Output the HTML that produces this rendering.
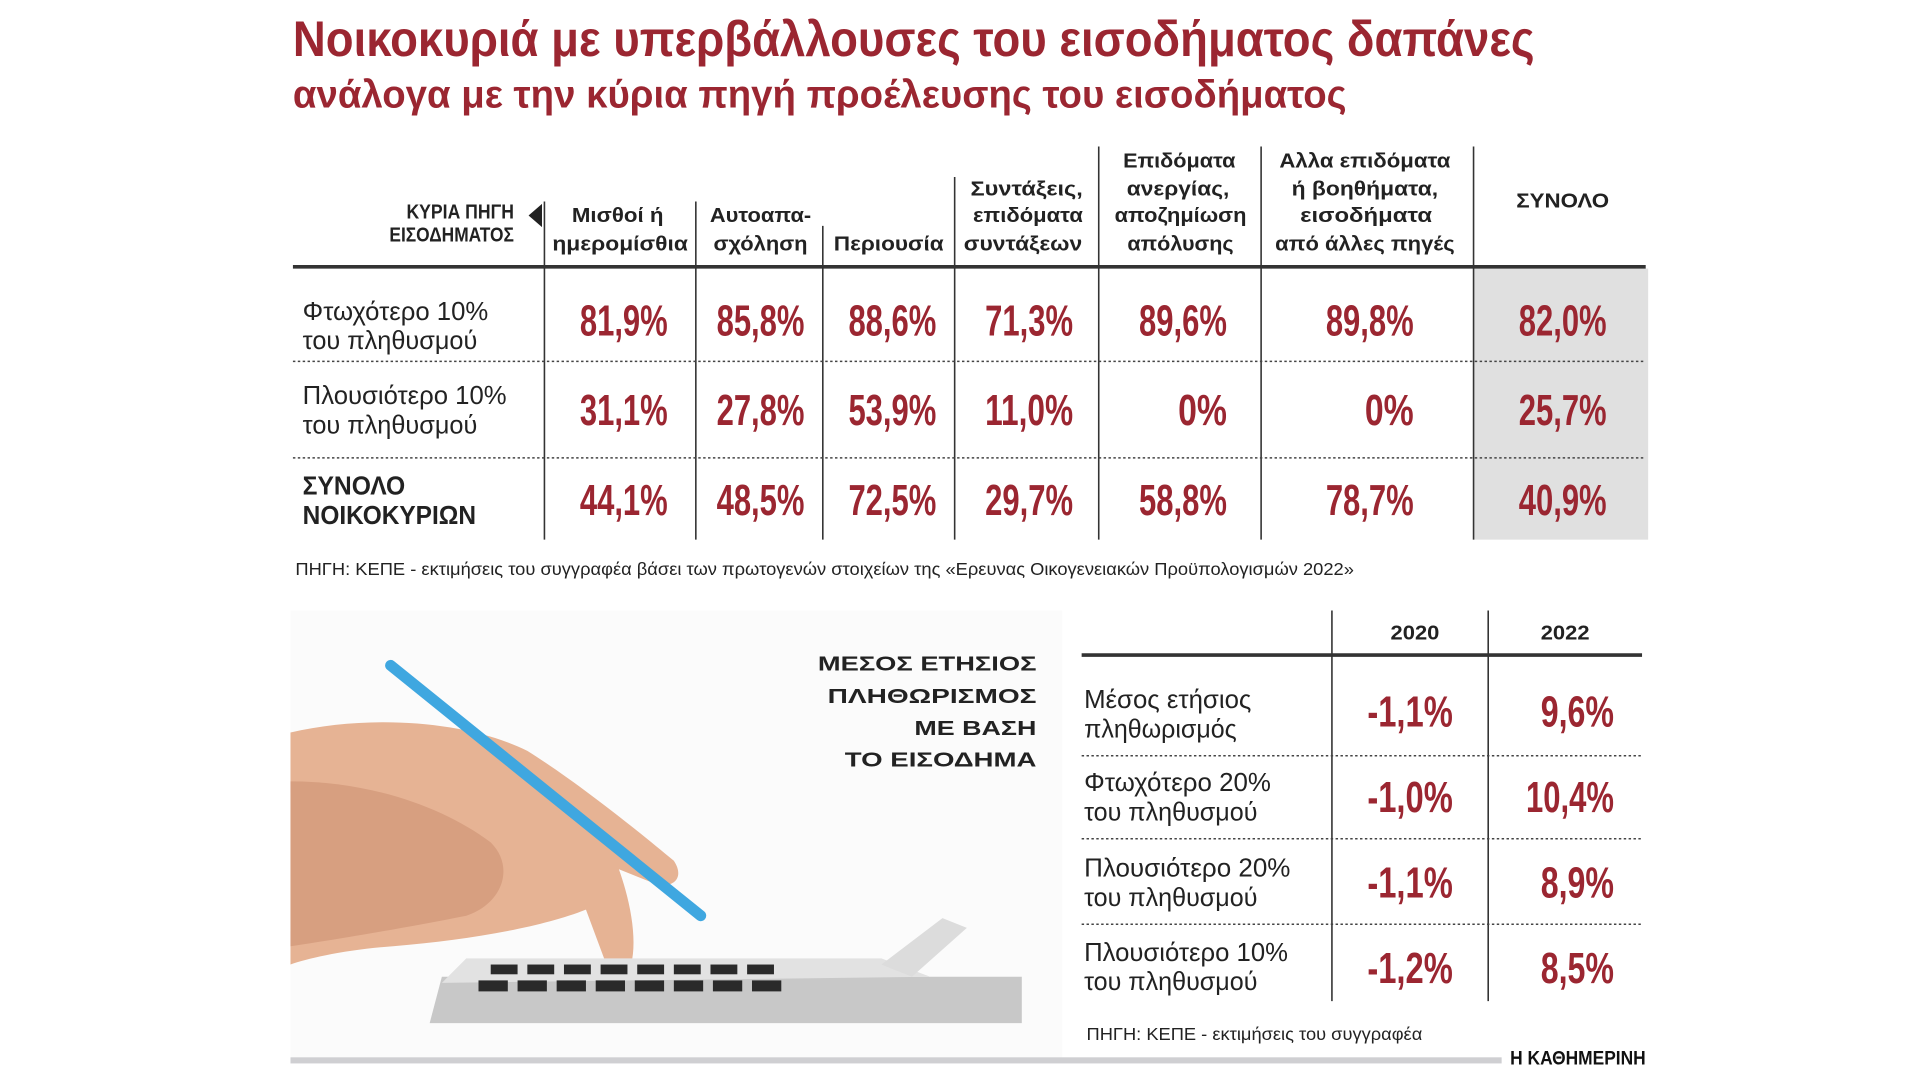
<!DOCTYPE html>
<html><head><meta charset="utf-8">
<style>
html,body{margin:0;padding:0;background:#fff;width:1920px;height:1080px;overflow:hidden}
svg{display:block}
text{font-family:"Liberation Sans Narrow","Liberation Sans",sans-serif}
.t{fill:#9b2631;font-weight:bold}
.h{font-size:17px;font-weight:bold;fill:#222}
.l{font-size:21px;fill:#222}
.lb{font-size:21px;font-weight:bold;fill:#222}
.v{font-size:36px;font-weight:bold;fill:#9b2631}
.s{font-size:14px;fill:#222}
</style></head><body>
<svg width="1920" height="1080" viewBox="0 0 1560 877.5" xmlns="http://www.w3.org/2000/svg">
<rect width="1560" height="878" fill="#fff"/>
<g transform="translate(238,0) scale(0.992) translate(-238,0)">
<text class="t" x="238" y="46" font-size="41" textLength="1017" lengthAdjust="spacingAndGlyphs">Νοικοκυριά με υπερβάλλουσες του εισοδήματος δαπάνες</text>
<text class="t" x="238" y="88" font-size="32" textLength="863" lengthAdjust="spacingAndGlyphs">ανάλογα με την κύρια πηγή προέλευσης του εισοδήματος</text>

<rect x="1205" y="220" width="143" height="222" fill="#e0e0e0"/>
<g stroke="#333" stroke-width="1.3">
<line x1="444" y1="165" x2="444" y2="442"/>
<line x1="568" y1="165" x2="568" y2="442"/>
<line x1="672" y1="185" x2="672" y2="442"/>
<line x1="780" y1="145" x2="780" y2="442"/>
<line x1="898" y1="120" x2="898" y2="442"/>
<line x1="1031" y1="120" x2="1031" y2="442"/>
<line x1="1205" y1="120" x2="1205" y2="442"/>
</g>
<line x1="238" y1="218.5" x2="1346" y2="218.5" stroke="#333" stroke-width="3"/>
<g stroke="#444" stroke-width="1.2" stroke-dasharray="2,2">
<line x1="238" y1="296" x2="1346" y2="296"/>
<line x1="238" y1="375" x2="1346" y2="375"/>
</g>
<polygon points="442,167 442,186 431,176.5" fill="#222"/>
<text class="h" font-size="14" x="419" y="179" text-anchor="end" textLength="88" lengthAdjust="spacingAndGlyphs">ΚΥΡΙΑ ΠΗΓΗ</text>
<text class="h" font-size="14" x="419" y="198" text-anchor="end" textLength="102" lengthAdjust="spacingAndGlyphs">ΕΙΣΟΔΗΜΑΤΟΣ</text>

<g class="h" text-anchor="middle">
<text x="504" y="182" textLength="75" lengthAdjust="spacingAndGlyphs">Μισθοί ή</text>
<text x="506" y="205" textLength="111" lengthAdjust="spacingAndGlyphs">ημερομίσθια</text>
<text x="621" y="182" textLength="83" lengthAdjust="spacingAndGlyphs">Αυτοαπα-</text>
<text x="621" y="205" textLength="77" lengthAdjust="spacingAndGlyphs">σχόληση</text>
<text x="726" y="205" textLength="90" lengthAdjust="spacingAndGlyphs">Περιουσία</text>
<text x="839" y="160" textLength="92" lengthAdjust="spacingAndGlyphs">Συντάξεις,</text>
<text x="840" y="182" textLength="90" lengthAdjust="spacingAndGlyphs">επιδόματα</text>
<text x="836" y="205" textLength="97" lengthAdjust="spacingAndGlyphs">συντάξεων</text>
<text x="964" y="137" textLength="92" lengthAdjust="spacingAndGlyphs">Επιδόματα</text>
<text x="963" y="160" textLength="84" lengthAdjust="spacingAndGlyphs">ανεργίας,</text>
<text x="965" y="182" textLength="108" lengthAdjust="spacingAndGlyphs">αποζημίωση</text>
<text x="965" y="205" textLength="87" lengthAdjust="spacingAndGlyphs">απόλυσης</text>
<text x="1116" y="137" textLength="140" lengthAdjust="spacingAndGlyphs">Αλλα επιδόματα</text>
<text x="1116" y="160" textLength="120" lengthAdjust="spacingAndGlyphs">ή βοηθήματα,</text>
<text x="1117" y="182" textLength="108" lengthAdjust="spacingAndGlyphs">εισοδήματα</text>
<text x="1116" y="205" textLength="147" lengthAdjust="spacingAndGlyphs">από άλλες πηγές</text>
<text x="1278" y="170" textLength="76" lengthAdjust="spacingAndGlyphs">ΣΥΝΟΛΟ</text>
</g>

<text class="l" x="246" y="262" textLength="152" lengthAdjust="spacingAndGlyphs">Φτωχότερο 10%</text>
<text class="l" x="246" y="286" textLength="143" lengthAdjust="spacingAndGlyphs">του πληθυσμού</text>
<text class="l" x="246" y="331" textLength="167" lengthAdjust="spacingAndGlyphs">Πλουσιότερο 10%</text>
<text class="l" x="246" y="355" textLength="143" lengthAdjust="spacingAndGlyphs">του πληθυσμού</text>
<text class="lb" x="246" y="405" textLength="84" lengthAdjust="spacingAndGlyphs">ΣΥΝΟΛΟ</text>
<text class="lb" x="246" y="429" textLength="142" lengthAdjust="spacingAndGlyphs">ΝΟΙΚΟΚΥΡΙΩΝ</text>

<g class="v" text-anchor="end">
<text x="545" y="275" textLength="72" lengthAdjust="spacingAndGlyphs">81,9%</text>
<text x="657" y="275" textLength="72" lengthAdjust="spacingAndGlyphs">85,8%</text>
<text x="765" y="275" textLength="72" lengthAdjust="spacingAndGlyphs">88,6%</text>
<text x="877" y="275" textLength="72" lengthAdjust="spacingAndGlyphs">71,3%</text>
<text x="1003" y="275" textLength="72" lengthAdjust="spacingAndGlyphs">89,6%</text>
<text x="1156" y="275" textLength="72" lengthAdjust="spacingAndGlyphs">89,8%</text>
<text x="1314" y="275" textLength="72" lengthAdjust="spacingAndGlyphs">82,0%</text>
<text x="545" y="348" textLength="72" lengthAdjust="spacingAndGlyphs">31,1%</text>
<text x="657" y="348" textLength="72" lengthAdjust="spacingAndGlyphs">27,8%</text>
<text x="765" y="348" textLength="72" lengthAdjust="spacingAndGlyphs">53,9%</text>
<text x="877" y="348" textLength="72" lengthAdjust="spacingAndGlyphs">11,0%</text>
<text x="1003" y="348" textLength="40" lengthAdjust="spacingAndGlyphs">0%</text>
<text x="1156" y="348" textLength="40" lengthAdjust="spacingAndGlyphs">0%</text>
<text x="1314" y="348" textLength="72" lengthAdjust="spacingAndGlyphs">25,7%</text>
<text x="545" y="422" textLength="72" lengthAdjust="spacingAndGlyphs">44,1%</text>
<text x="657" y="422" textLength="72" lengthAdjust="spacingAndGlyphs">48,5%</text>
<text x="765" y="422" textLength="72" lengthAdjust="spacingAndGlyphs">72,5%</text>
<text x="877" y="422" textLength="72" lengthAdjust="spacingAndGlyphs">29,7%</text>
<text x="1003" y="422" textLength="72" lengthAdjust="spacingAndGlyphs">58,8%</text>
<text x="1156" y="422" textLength="72" lengthAdjust="spacingAndGlyphs">78,7%</text>
<text x="1314" y="422" textLength="72" lengthAdjust="spacingAndGlyphs">40,9%</text>
</g>

<text class="s" x="240" y="471" textLength="867" lengthAdjust="spacingAndGlyphs">ΠΗΓΗ: ΚΕΠΕ - εκτιμήσεις του συγγραφέα βάσει των πρωτογενών στοιχείων της «Ερευνας Οικογενειακών Προϋπολογισμών 2022»</text>

<!-- photo approximation -->
<rect x="236" y="500" width="632" height="370" fill="#fbfbfb"/>
<path d="M236,600 C300,585 380,590 430,615 C470,640 520,680 550,705 C560,720 548,730 530,722 L505,712 C515,740 520,770 515,790 C510,800 498,800 494,788 L478,745 C440,760 380,770 320,775 C280,778 250,785 236,790 Z" fill="#e6b394"/>
<path d="M236,640 C300,640 360,660 400,690 C420,710 410,740 380,750 C330,760 270,770 236,775 Z" fill="#d79f80"/>
<line x1="318" y1="545" x2="572" y2="750" stroke="#3fa7e0" stroke-width="9" stroke-linecap="round"/>
<polygon points="360,800 835,800 835,838 350,838" fill="#c8c8c8"/>
<polygon points="380,785 720,785 760,800 360,805" fill="#e2e2e2"/>
<g fill="#2a2a2a">
<rect x="400" y="790" width="22" height="8"/><rect x="430" y="790" width="22" height="8"/><rect x="460" y="790" width="22" height="8"/><rect x="490" y="790" width="22" height="8"/><rect x="520" y="790" width="22" height="8"/><rect x="550" y="790" width="22" height="8"/><rect x="580" y="790" width="22" height="8"/><rect x="610" y="790" width="22" height="8"/>
<rect x="390" y="803" width="24" height="9"/><rect x="422" y="803" width="24" height="9"/><rect x="454" y="803" width="24" height="9"/><rect x="486" y="803" width="24" height="9"/><rect x="518" y="803" width="24" height="9"/><rect x="550" y="803" width="24" height="9"/><rect x="582" y="803" width="24" height="9"/><rect x="614" y="803" width="24" height="9"/>
</g>
<polygon points="720,790 770,752 790,760 745,800" fill="#dcdcdc"/>

<g class="h" font-size="22" text-anchor="end">
<text x="847" y="549" textLength="179" lengthAdjust="spacingAndGlyphs">ΜΕΣΟΣ ΕΤΗΣΙΟΣ</text>
<text x="847" y="576" textLength="171" lengthAdjust="spacingAndGlyphs">ΠΛΗΘΩΡΙΣΜΟΣ</text>
<text x="847" y="602" textLength="100" lengthAdjust="spacingAndGlyphs">ΜΕ ΒΑΣΗ</text>
<text x="847" y="628" textLength="157" lengthAdjust="spacingAndGlyphs">ΤΟ ΕΙΣΟΔΗΜΑ</text>
</g>

<g stroke="#333" stroke-width="1.3">
<line x1="1089" y1="500" x2="1089" y2="820"/>
<line x1="1217" y1="500" x2="1217" y2="820"/>
</g>
<line x1="884" y1="536.5" x2="1343" y2="536.5" stroke="#333" stroke-width="3"/>
<g stroke="#444" stroke-width="1.2" stroke-dasharray="2,2">
<line x1="884" y1="619" x2="1343" y2="619"/>
<line x1="884" y1="687" x2="1343" y2="687"/>
<line x1="884" y1="757" x2="1343" y2="757"/>
</g>
<text class="h" x="1157" y="524" text-anchor="middle" textLength="40" lengthAdjust="spacingAndGlyphs">2020</text>
<text class="h" x="1280" y="524" text-anchor="middle" textLength="40" lengthAdjust="spacingAndGlyphs">2022</text>
<text class="l" x="886" y="580" textLength="137" lengthAdjust="spacingAndGlyphs">Μέσος ετήσιος</text>
<text class="l" x="886" y="604" textLength="125" lengthAdjust="spacingAndGlyphs">πληθωρισμός</text>
<text class="l" x="886" y="648" textLength="153" lengthAdjust="spacingAndGlyphs">Φτωχότερο 20%</text>
<text class="l" x="886" y="672" textLength="142" lengthAdjust="spacingAndGlyphs">του πληθυσμού</text>
<text class="l" x="886" y="718" textLength="169" lengthAdjust="spacingAndGlyphs">Πλουσιότερο 20%</text>
<text class="l" x="886" y="742" textLength="142" lengthAdjust="spacingAndGlyphs">του πληθυσμού</text>
<text class="l" x="886" y="787" textLength="167" lengthAdjust="spacingAndGlyphs">Πλουσιότερο 10%</text>
<text class="l" x="886" y="811" textLength="142" lengthAdjust="spacingAndGlyphs">του πληθυσμού</text>
<g class="v" text-anchor="end">
<text x="1188" y="595" textLength="70" lengthAdjust="spacingAndGlyphs">-1,1%</text>
<text x="1320" y="595" textLength="60" lengthAdjust="spacingAndGlyphs">9,6%</text>
<text x="1188" y="665" textLength="70" lengthAdjust="spacingAndGlyphs">-1,0%</text>
<text x="1320" y="665" textLength="72" lengthAdjust="spacingAndGlyphs">10,4%</text>
<text x="1188" y="735" textLength="70" lengthAdjust="spacingAndGlyphs">-1,1%</text>
<text x="1320" y="735" textLength="60" lengthAdjust="spacingAndGlyphs">8,9%</text>
<text x="1188" y="805" textLength="70" lengthAdjust="spacingAndGlyphs">-1,2%</text>
<text x="1320" y="805" textLength="60" lengthAdjust="spacingAndGlyphs">8,5%</text>
</g>
<text class="s" x="888" y="852" textLength="275" lengthAdjust="spacingAndGlyphs">ΠΗΓΗ: ΚΕΠΕ - εκτιμήσεις του συγγραφέα</text>

<rect x="236" y="866" width="992" height="5" fill="#cfcfd2"/>
<text x="1235" y="872" font-family="Liberation Serif, serif" font-weight="bold" font-size="16" fill="#111" textLength="111" lengthAdjust="spacingAndGlyphs">Η ΚΑΘΗΜΕΡΙΝΗ</text>
</g>
</svg>
</body></html>
